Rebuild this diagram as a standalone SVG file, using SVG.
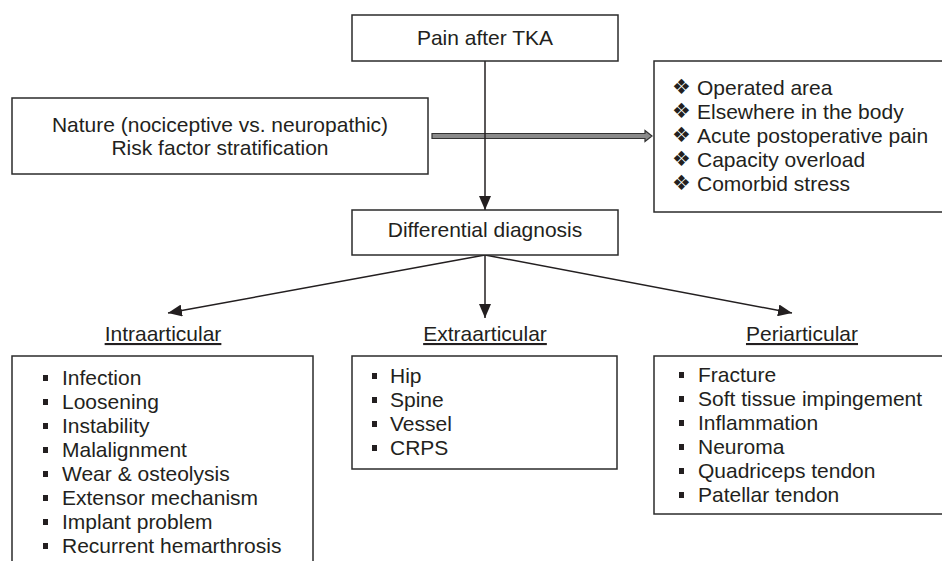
<svg xmlns="http://www.w3.org/2000/svg" width="942" height="561" viewBox="0 0 942 561">
<style>
.box{fill:#fff;stroke:#2b2b2b;stroke-width:1.5}
.t{font-family:"Liberation Sans",Arial,sans-serif;font-size:21px;fill:#231f20}
.c{text-anchor:middle}
.dia{font-family:"DejaVu Sans",sans-serif;font-size:21px;fill:#231f20}
.b{fill:#231f20}
.ln{stroke:#231f20;stroke-width:1.5;fill:none}
</style>
<defs>
<marker id="ah" viewBox="0 0 14 12" refX="14" refY="6" markerWidth="14" markerHeight="12" markerUnits="userSpaceOnUse" orient="auto">
<path d="M0,0 L14,6 L0,12 Z" fill="#231f20"/>
</marker>
</defs>
<rect width="942" height="561" fill="#fff"/>

<g id="connectors">
<path d="M432,133.5 H645 V130.5 L652,136 L645,141.5 V138.5 H432 Z" fill="#8a8a8a" stroke="#333" stroke-width="1.2"/>
<path class="ln" d="M485,61 V210" marker-end="url(#ah)"/>
<path class="ln" d="M485,255 V318" marker-end="url(#ah)"/>
<path class="ln" d="M485,255 L168,313" marker-end="url(#ah)"/>
<path class="ln" d="M485,255 L792,313" marker-end="url(#ah)"/>
</g>

<g id="pain">
<rect class="box" x="352" y="15" width="266" height="46"/>
<text class="t c" x="485" y="45">Pain after TKA</text>
</g>

<g id="nature">
<rect class="box" x="12" y="98" width="416" height="76"/>
<text class="t c" x="220" y="132">Nature (nociceptive vs. neuropathic)</text>
<text class="t c" x="220" y="155">Risk factor stratification</text>
</g>

<g id="factors">
<rect class="box" x="654" y="61" width="300" height="151"/>
<text class="dia" x="672" y="94">❖</text>
<text class="dia" x="672" y="118">❖</text>
<text class="dia" x="672" y="142">❖</text>
<text class="dia" x="672" y="166">❖</text>
<text class="dia" x="672" y="190">❖</text>
<text class="t" x="697" y="95">Operated area</text>
<text class="t" x="697" y="119">Elsewhere in the body</text>
<text class="t" x="697" y="143">Acute postoperative pain</text>
<text class="t" x="697" y="167">Capacity overload</text>
<text class="t" x="697" y="191">Comorbid stress</text>
</g>

<g id="diff">
<rect class="box" x="352" y="210" width="266" height="45"/>
<text class="t c" x="485" y="237">Differential diagnosis</text>
</g>

<g id="intra">
<text class="t c" x="163" y="341" text-decoration="underline">Intraarticular</text>
<rect class="box" x="12" y="356" width="301" height="220"/>
<g class="b">
<rect x="43" y="375" width="5" height="6"/>
<rect x="43" y="399" width="5" height="6"/>
<rect x="43" y="423" width="5" height="6"/>
<rect x="43" y="447" width="5" height="6"/>
<rect x="43" y="471" width="5" height="6"/>
<rect x="43" y="495" width="5" height="6"/>
<rect x="43" y="519" width="5" height="6"/>
<rect x="43" y="543" width="5" height="6"/>
</g>
<text class="t" x="62" y="385">Infection</text>
<text class="t" x="62" y="409">Loosening</text>
<text class="t" x="62" y="433">Instability</text>
<text class="t" x="62" y="457">Malalignment</text>
<text class="t" x="62" y="481">Wear &amp; osteolysis</text>
<text class="t" x="62" y="505">Extensor mechanism</text>
<text class="t" x="62" y="529">Implant problem</text>
<text class="t" x="62" y="553">Recurrent hemarthrosis</text>
</g>

<g id="extra">
<text class="t c" x="485" y="341" text-decoration="underline">Extraarticular</text>
<rect class="box" x="352" y="356" width="265" height="113"/>
<g class="b">
<rect x="372" y="373" width="5" height="6"/>
<rect x="372" y="397" width="5" height="6"/>
<rect x="372" y="421" width="5" height="6"/>
<rect x="372" y="445" width="5" height="6"/>
</g>
<text class="t" x="390" y="383">Hip</text>
<text class="t" x="390" y="407">Spine</text>
<text class="t" x="390" y="431">Vessel</text>
<text class="t" x="390" y="455">CRPS</text>
</g>

<g id="peri">
<text class="t c" x="802" y="341" text-decoration="underline">Periarticular</text>
<rect class="box" x="654" y="356" width="300" height="158"/>
<g class="b">
<rect x="679" y="372" width="5" height="6"/>
<rect x="679" y="396" width="5" height="6"/>
<rect x="679" y="420" width="5" height="6"/>
<rect x="679" y="444" width="5" height="6"/>
<rect x="679" y="468" width="5" height="6"/>
<rect x="679" y="492" width="5" height="6"/>
</g>
<text class="t" x="698" y="382">Fracture</text>
<text class="t" x="698" y="406">Soft tissue impingement</text>
<text class="t" x="698" y="430">Inflammation</text>
<text class="t" x="698" y="454">Neuroma</text>
<text class="t" x="698" y="478">Quadriceps tendon</text>
<text class="t" x="698" y="502">Patellar tendon</text>
</g>
</svg>
